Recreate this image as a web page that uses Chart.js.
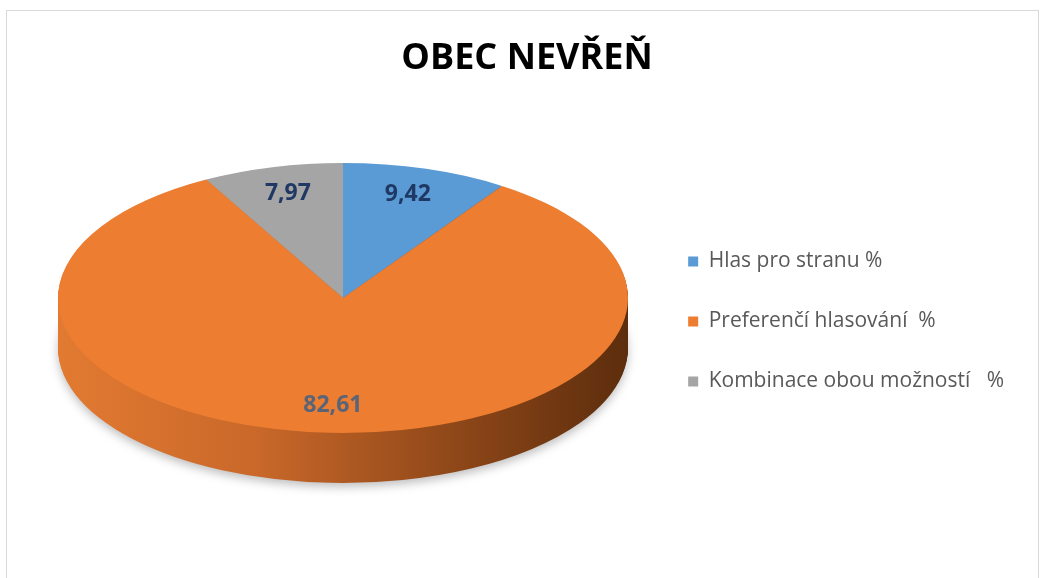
<!DOCTYPE html>
<html lang="cs">
<head>
<meta charset="UTF-8">
<title>Obec Nevřeň</title>
<script src="https://cdn.jsdelivr.net/npm/chart.js"></script>
<style>
    body {
        margin: 0;
        background: #ffffff;
    }
    #wrap {
        position: relative;
        width: 1040px;
        height: 578px;
        overflow: hidden;
    }
    #frame {
        position: absolute;
        left: 6px;
        top: 10px;
        width: 1031px;
        height: 620px;
        border: 1px solid #d9d9d9;
        pointer-events: none;
    }
    canvas {
        position: absolute;
        left: 0;
        top: 0;
    }
</style>
</head>
<body>
<div id="wrap">
    <canvas id="pieChart" width="1040" height="578"></canvas>
    <div id="frame"></div>
</div>

<script>
    // chart data
    var categories = ['Hlas pro stranu %', 'Preferenčí hlasování  %', 'Kombinace obou možností   %'];
    var values = [9.42, 82.61, 7.97];
    var sliceColors = ['#5b9bd5', '#ed7d31', '#a5a5a5'];
    var labelColors = ['#203864', '#5a6478', '#203864'];

    // where the tilted pie sits on the page
    var CX = 343, CY = 298;   // centre of the top face
    var RX = 285, RY = 135;   // radii of the top face
    var DEPTH = 50;           // thickness of the disc

    function screenTransform(ctx, arc, dy) {
        var R = arc.outerRadius;
        ctx.translate(CX, CY + dy);
        ctx.scale(RX / R, RY / R);
        ctx.translate(-arc.x, -arc.y);
    }

    var pie3d = {
        id: 'pie3d',
        beforeDatasetsDraw: function(chart) {
            var ctx = chart.ctx;
            var arcs = chart.getDatasetMeta(0).data;
            var a0 = arcs[0];
            var R = a0.outerRadius;

            // side of the disc: light on the left, dark on the right
            var grad = ctx.createLinearGradient(a0.x - R, 0, a0.x + R, 0);
            grad.addColorStop(0, '#e27a31');
            grad.addColorStop(0.35, '#c9682a');
            grad.addColorStop(0.7, '#8e4718');
            grad.addColorStop(1, '#5c2d0d');

            for (var d = DEPTH; d >= 1; d--) {
                ctx.save();
                if (d === DEPTH) {
                    ctx.shadowColor = 'rgba(0,0,0,0.25)';
                    ctx.shadowBlur = 10;
                    ctx.shadowOffsetY = 4;
                }
                screenTransform(ctx, a0, d);
                arcs.forEach(function(arc) {
                    var ghost = Object.create(arc);
                    ghost.options = Object.assign({}, arc.options, { backgroundColor: grad, borderWidth: 0 });
                    arc.draw.call(ghost, ctx);
                });
                ctx.restore();
            }

            ctx.save();
            screenTransform(ctx, a0, 0);
        },
        afterDatasetsDraw: function(chart) {
            var ctx = chart.ctx;
            ctx.restore();

            var arcs = chart.getDatasetMeta(0).data;
            ctx.save();
            ctx.textAlign = 'center';
            ctx.textBaseline = 'middle';
            ctx.font = 'bold 23px "Open Sans", sans-serif';
            arcs.forEach(function(arc, i) {
                var mid = (arc.startAngle + arc.endAngle) / 2;
                var x = CX + Math.cos(mid) * RX * 0.78;
                var y = CY + Math.sin(mid) * RY * 0.8;
                ctx.fillStyle = labelColors[i];
                ctx.fillText(values[i].toFixed(2).replace('.', ','), x, y);
            });
            ctx.restore();
        }
    };

    var ctx = document.getElementById('pieChart').getContext('2d');
    var myChart = new Chart(ctx, {
        type: 'pie',
        data: {
            labels: categories,
            datasets: [{
                data: values,
                backgroundColor: sliceColors,
                borderWidth: 0,
                clip: false
            }]
        },
        options: {
            responsive: false,
            animation: false,
            events: [],
            layout: {
                padding: { left: 40, right: 26, top: 0, bottom: 147 }
            },
            plugins: {
                title: {
                    display: true,
                    text: 'OBEC NEVŘEŇ',
                    color: '#000000',
                    font: { family: '"Open Sans", sans-serif', size: 36, weight: 'bold' },
                    padding: { top: 37, bottom: 20 }
                },
                legend: {
                    position: 'right',
                    align: 'end',
                    labels: {
                        boxWidth: 10,
                        boxHeight: 10,
                        padding: 39,
                        color: '#595959',
                        font: { family: '"Open Sans", sans-serif', size: 21 }
                    }
                },
                tooltip: { enabled: false }
            }
        },
        plugins: [pie3d]
    });
</script>
</body>
</html>
